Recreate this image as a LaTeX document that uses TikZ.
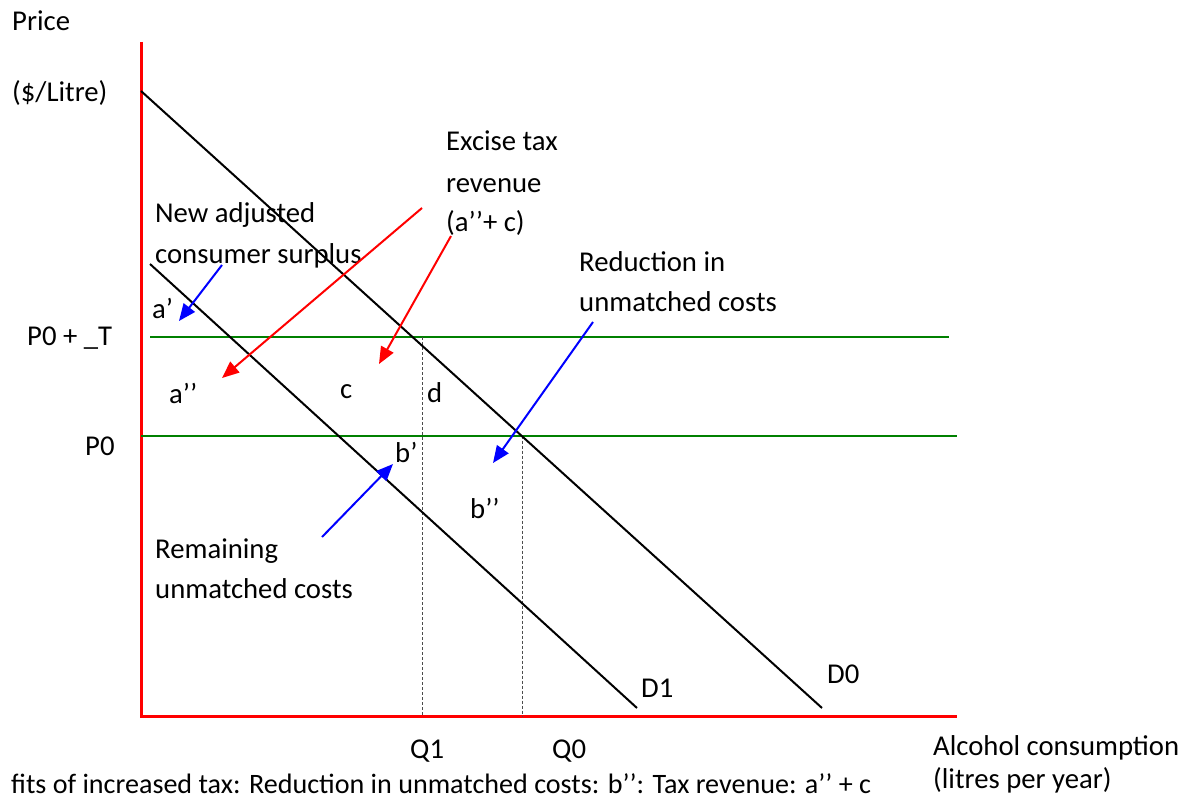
\documentclass[tikz,border=0pt]{standalone}
\usepackage{fontspec}
\setmainfont{Carlito}
\usetikzlibrary{arrows.meta}
\definecolor{axisred}{RGB}{255,0,0}
\definecolor{lineblue}{RGB}{0,0,255}
\definecolor{linegreen}{RGB}{0,128,0}
\begin{document}
\begin{tikzpicture}[x=1pt,y=-1pt,
  lbl/.style={anchor=base west,inner sep=0pt,font=\fontsize{28.7}{41}\selectfont},
  footlbl/.style={anchor=base west,inner sep=0pt,font=\fontsize{28.1}{41}\selectfont},
  axisline/.style={draw=axisred,line width=3pt},
  demand/.style={draw=black,line width=2pt},
  priceline/.style={draw=linegreen,line width=2pt},
  guide/.style={draw=black!70,line width=0.8pt,dash pattern=on 3pt off 2pt},
  redarrow/.style={draw=axisred,line width=2pt,-{Triangle[length=17pt,width=14pt]}},
  bluearrow/.style={draw=lineblue,line width=2pt,-{Triangle[length=17pt,width=14pt]}}]
\useasboundingbox (0,0) rectangle (1201,800);
\clip (0,0) rectangle (1201,800);
% axes
\coordinate (ytop) at (141,42);
\coordinate (origin) at (141,716);
\coordinate (xend) at (957,716);
\draw[axisline] (ytop) -- (origin) -- (xend);
% price lines
\coordinate (pt1) at (150,337);
\coordinate (pt2) at (949,337);
\coordinate (p01) at (141,435.5);
\coordinate (p02) at (957,435.5);
\draw[priceline] (pt1) -- (pt2);
\draw[priceline] (p01) -- (p02);
% guides
\coordinate (q1top) at (422.5,337);
\coordinate (q1bot) at (422.5,716);
\coordinate (q0top) at (522,435.5);
\coordinate (q0bot) at (522,716);
\draw[guide] (q1top) -- (q1bot);
\draw[guide] (q0top) -- (q0bot);
% demand curves
\coordinate (d0a) at (141,91);
\coordinate (d0b) at (822,708);
\coordinate (d1a) at (150,264);
\coordinate (d1b) at (637,708);
\draw[demand] (d0a) -- (d0b);
\draw[demand] (d1a) -- (d1b);
% labels
\node[lbl] (price) at (12,31) {Price};
\node[lbl] (unit) at (12,101) {(\$/Litre)};
\node[lbl] (ex1) at (446,150) {Excise tax};
\node[lbl] (ex2) at (446,192) {revenue};
\node[lbl] (ex3) at (446,231) {(a’’+ c)};
\node[lbl] (na1) at (155,222) {New adjusted};
\node[lbl] (na2) at (155,263) {consumer surplus};
\node[lbl] (ru1) at (579,271) {Reduction in};
\node[lbl] (ru2) at (579,311) {unmatched costs};
\node[lbl] (ap) at (152,318) {a’};
\node[lbl] (app) at (169,403) {a’’};
\node[lbl] (c) at (340,398) {c};
\node[lbl] (d) at (427,402) {d};
\node[lbl] (pt) at (27,345) {P0 + \_T};
\node[lbl] (p0) at (85,455) {P0};
\node[lbl] (bp) at (395,462) {b’};
\node[lbl] (bpp) at (470,518) {b’’};
\node[lbl] (rm1) at (155,558) {Remaining};
\node[lbl] (rm2) at (155,598) {unmatched costs};
\node[lbl] (d1) at (641,697) {D1};
\node[lbl] (d0) at (827,683) {D0};
\node[lbl] (q1) at (410,758) {Q1};
\node[lbl] (q0) at (552,758) {Q0};
\node[lbl] (al1) at (933,755) {Alcohol consumption};
\node[lbl] (al2) at (933,788) {(litres per year)};
\node[footlbl] (foot) at (11,793) {fits of increased tax: Reduction in unmatched costs: b’’: Tax revenue: a’’ + c};
% arrow anchors
\coordinate (r1s) at (422,208);
\coordinate (r1e) at (222,378);
\coordinate (r2s) at (451,236);
\coordinate (r2e) at (379,364);
\coordinate (b1s) at (222,265);
\coordinate (b1e) at (179,321);
\coordinate (b2s) at (593,322);
\coordinate (b2e) at (493,463);
\coordinate (b3s) at (322,537);
\coordinate (b3e) at (393,464);
\draw[redarrow] (r1s) -- (r1e);
\draw[redarrow] (r2s) -- (r2e);
\draw[bluearrow] (b1s) -- (b1e);
\draw[bluearrow] (b2s) -- (b2e);
\draw[bluearrow] (b3s) -- (b3e);
\end{tikzpicture}
\end{document}
